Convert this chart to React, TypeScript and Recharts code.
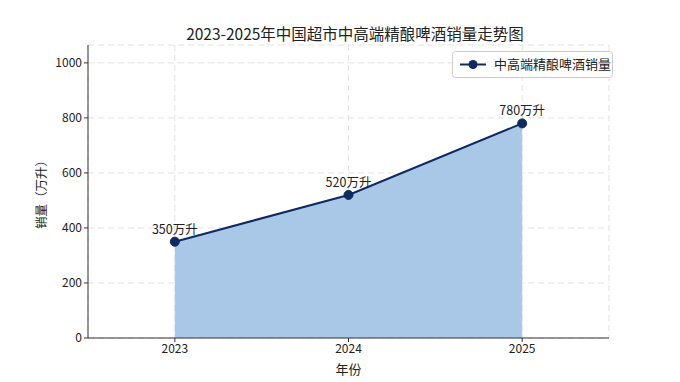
import React from 'react';
import { ComposedChart, Area, Line, XAxis, YAxis, CartesianGrid, LabelList } from 'recharts';

const years = [2023, 2024, 2025];
const sales = [350, 520, 780];
const yTicks = [0, 200, 400, 600, 800, 1000];
const title = '2023-2025年中国超市中高端精酿啤酒销量走势图';
const seriesName = '中高端精酿啤酒销量';
const unit = '万升';

const data = years.map((y, i) => ({ year: y, sales: sales[i] }));

const FONT = '"Noto Sans CJK SC", "Noto Sans", sans-serif';
const NAVY = '#0f2a5f';

const LegendBox = () => (
  <svg width={162} height={28}>
    <rect x={0.5} y={0.5} width={160} height={26} rx={3} fill="#fff" stroke="#cccccc" />
    <line x1={8} y1={13.5} x2={34} y2={13.5} stroke={NAVY} strokeWidth={2} />
    <circle cx={21} cy={13.5} r={4.5} fill={NAVY} />
    <text x={42} y={18} fontSize={13} fill="#222" fontFamily={FONT}>{seriesName}</text>
  </svg>
);

export default function App() {
  return (
    <div style={{ position: 'absolute', left: 0, top: 0, width: 680, height: 382, background: '#fff', fontFamily: FONT }}>
      <div style={{ position: 'absolute', left: 0, width: 710, top: 22, textAlign: 'center', fontSize: 15.5, color: '#222', lineHeight: '22px' }}>{title}</div>
      <ComposedChart width={680} height={382} data={data} margin={{ top: 45, right: 71, bottom: 0, left: 28 }}>
        <CartesianGrid stroke="#e2e2e2" strokeDasharray="6 4" />
        <XAxis
          dataKey="year"
          type="number"
          domain={[2022.5, 2025.5]}
          ticks={years}
          height={44}
          tickSize={4}
          stroke="#333"
          tick={{ fill: '#222', fontSize: 12, fontFamily: FONT }}
          label={{ value: '年份', position: 'insideBottom', offset: 8, fontSize: 13, fill: '#222', fontFamily: FONT }}
        />
        <YAxis
          type="number"
          domain={[0, 1065]}
          ticks={yTicks}
          width={60}
          tickSize={4}
          stroke="#333"
          tick={{ fill: '#222', fontSize: 12, fontFamily: FONT }}
          label={{ value: '销量（万升）', angle: -90, position: 'insideLeft', offset: 14, fontSize: 12.5, fill: '#222', fontFamily: FONT, style: { textAnchor: 'middle' } }}
        />
        <Area
          type="linear"
          dataKey="sales"
          stroke="none"
          fill="#a9c8e7"
          fillOpacity={1}
          isAnimationActive={false}
          legendType="none"
        />
        <Line
          type="linear"
          dataKey="sales"
          name={seriesName}
          stroke={NAVY}
          strokeWidth={2}
          dot={{ r: 4.5, fill: NAVY, stroke: NAVY, strokeWidth: 1 }}
          isAnimationActive={false}
        >
          <LabelList
            dataKey="sales"
            position="top"
            offset={8}
            formatter={(v: any) => `${v}${unit}`}
            style={{ fontSize: 12.5, fill: '#222', fontFamily: FONT }}
          />
        </Line>
      </ComposedChart>
      <div style={{ position: 'absolute', left: 452, top: 51 }}>
        <LegendBox />
      </div>
    </div>
  );
}
